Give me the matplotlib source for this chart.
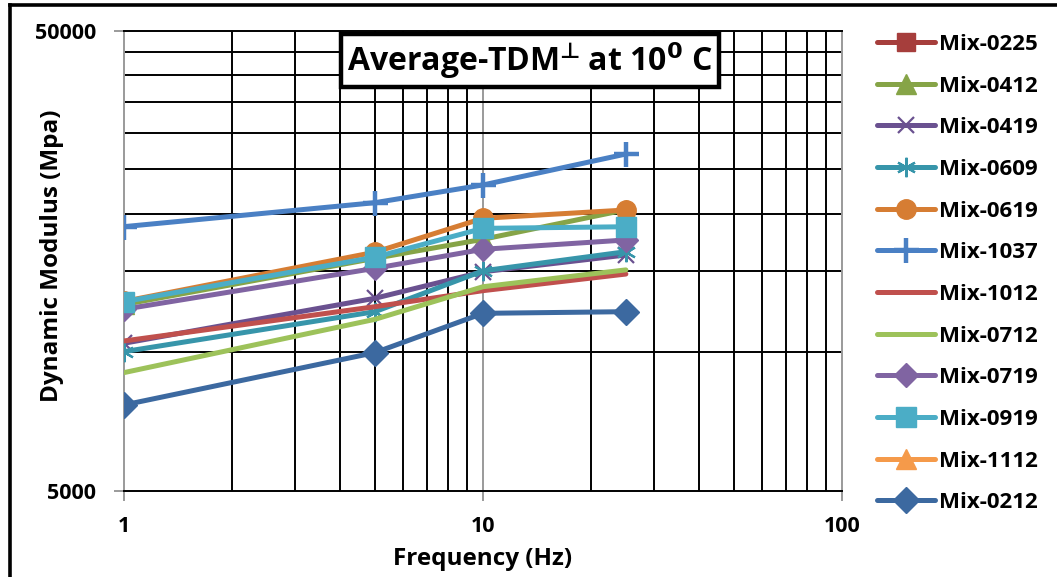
import numpy as np
import matplotlib
matplotlib.use("Agg")
import matplotlib.pyplot as plt
from matplotlib.lines import Line2D

plt.rcParams['font.family'] = ['Open Sans', 'DejaVu Sans']
plt.rcParams['font.weight'] = 'bold'
plt.rcParams['mathtext.fontset'] = 'dejavusans'
plt.rcParams['mathtext.default'] = 'rm'

nan = np.nan
freq = [1, 5, 10, 25]

mix_0225 = [nan, nan, nan, nan]
mix_0412 = [12700, 16000, 17600, 20400]
mix_0419 = [10460, 13100, 14960, 16270]
mix_0609 = [10030, 12250, 15030, 16540]
mix_0619 = [12900, 16500, 19550, 20380]
mix_1037 = [18750, 21140, 23100, 26970]
mix_1012 = [10580, 12560, 13610, 14790]
mix_0712 = [9030, 11790, 13880, 15100]
mix_0719 = [12400, 15220, 16740, 17540]
mix_0919 = [12880, 16090, 18590, 18740]
mix_1112 = [nan, nan, nan, nan]
mix_0212 = [7680, 9980, 12150, 12250]

series_names = ["Mix-0225", "Mix-0412", "Mix-0419", "Mix-0609", "Mix-0619",
                "Mix-1037", "Mix-1012", "Mix-0712", "Mix-0719", "Mix-0919",
                "Mix-1112", "Mix-0212"]
series_values = [mix_0225, mix_0412, mix_0419, mix_0609, mix_0619, mix_1037,
                 mix_1012, mix_0712, mix_0719, mix_0919, mix_1112, mix_0212]

styles = [
    dict(color='#A63E3C', marker='s', ms=13),
    dict(color='#86A447', marker='^', ms=14),
    dict(color='#6A5190', marker='x', ms=12, mew=1.6),
    dict(color='#3795AA', marker=(6, 2, 0), ms=14, mew=1.6),
    dict(color='#D67D33', marker='o', ms=14),
    dict(color='#4A80C4', marker='+', ms=18, mew=3.2),
    dict(color='#C0504D', marker=None, ms=0),
    dict(color='#9DC25A', marker=None, ms=0),
    dict(color='#8064A2', marker='D', ms=12),
    dict(color='#4BADC6', marker='s', ms=14),
    dict(color='#F59A4A', marker='^', ms=14),
    dict(color='#3C69A0', marker='D', ms=13),
]

W, H = 1057, 577
fig = plt.figure(figsize=(W / 100, H / 100), dpi=100)
ax = fig.add_axes([124 / W, 1 - 490.7 / H, 718 / W, 460 / H])
ax.set_xscale('log')
ax.set_yscale('log')
ax.set_xlim(1, 100)
ax.set_ylim(5000, 50000)

# grid: black minor lines, grey decade lines
for xv in [2, 3, 4, 5, 6, 7, 8, 9, 20, 30, 40, 50, 60, 70, 80, 90]:
    ax.axvline(xv, color='black', lw=1.4, zorder=1)
ax.axvline(10, color='#9A9A9A', lw=1.4, zorder=1)
for yv in range(10000, 50000, 5000):
    ax.axhline(yv, color='black', lw=1.4, zorder=1)

for name, vals, st in zip(series_names, series_values, styles):
    ax.plot(freq, vals, color=st['color'], lw=3.6, marker=st['marker'],
            ms=st['ms'], mew=st.get('mew', 1.0), mec=st['color'],
            mfc=st['color'], label=name, zorder=3, solid_capstyle='round')

ax.spines['left'].set_color('#9A9A9A')
ax.spines['right'].set_color('#9A9A9A')
ax.spines['top'].set_color('black')
ax.spines['bottom'].set_color('black')
for s in ax.spines.values():
    s.set_linewidth(1.4)

ax.set_xticks([1, 10, 100])
ax.set_xticklabels(['1', '10', '100'])
ax.set_yticks([5000, 50000])
ax.set_yticklabels(['5000', '50000'])
ax.minorticks_off()
ax.tick_params(axis='both', which='major', color='#9A9A9A', width=1.4,
               length=7, labelsize=15.5)
ax.tick_params(axis='y', pad=13)
ax.tick_params(axis='x', pad=11)

ax.set_xlabel('Frequency (Hz)', fontsize=17.5, fontweight='bold')
ax.xaxis.set_label_coords(0.5, -0.122)
ax.set_ylabel('Dynamic Modulus (Mpa)', fontsize=17.5, fontweight='bold')
ax.yaxis.set_label_coords(-0.083, 0.51)

ax.text(0.565, 0.935, r"Average-TDM$\!^{\bot}\!$ at 10$^{\mathbf{0}}$ C", transform=ax.transAxes,
        ha='center', va='center', fontsize=23, fontweight='bold', zorder=5,
        bbox=dict(boxstyle='square,pad=0.2', fc='white', ec='black', lw=3.2))

fig.legend(loc='upper left', bbox_to_anchor=(868 / W, 1 - 25 / H), frameon=False,
           fontsize=16, handlelength=2.6, handletextpad=0.2, labelspacing=0.93,
           borderaxespad=0)

# outer frame
fig.add_artist(Line2D([10 / W, 1.0], [1 - 5 / H, 1 - 5 / H], color='black', lw=2.6))
fig.add_artist(Line2D([10 / W, 10 / W], [0, 1 - 5 / H], color='black', lw=2.6))

fig.savefig('out.png', dpi=100)
